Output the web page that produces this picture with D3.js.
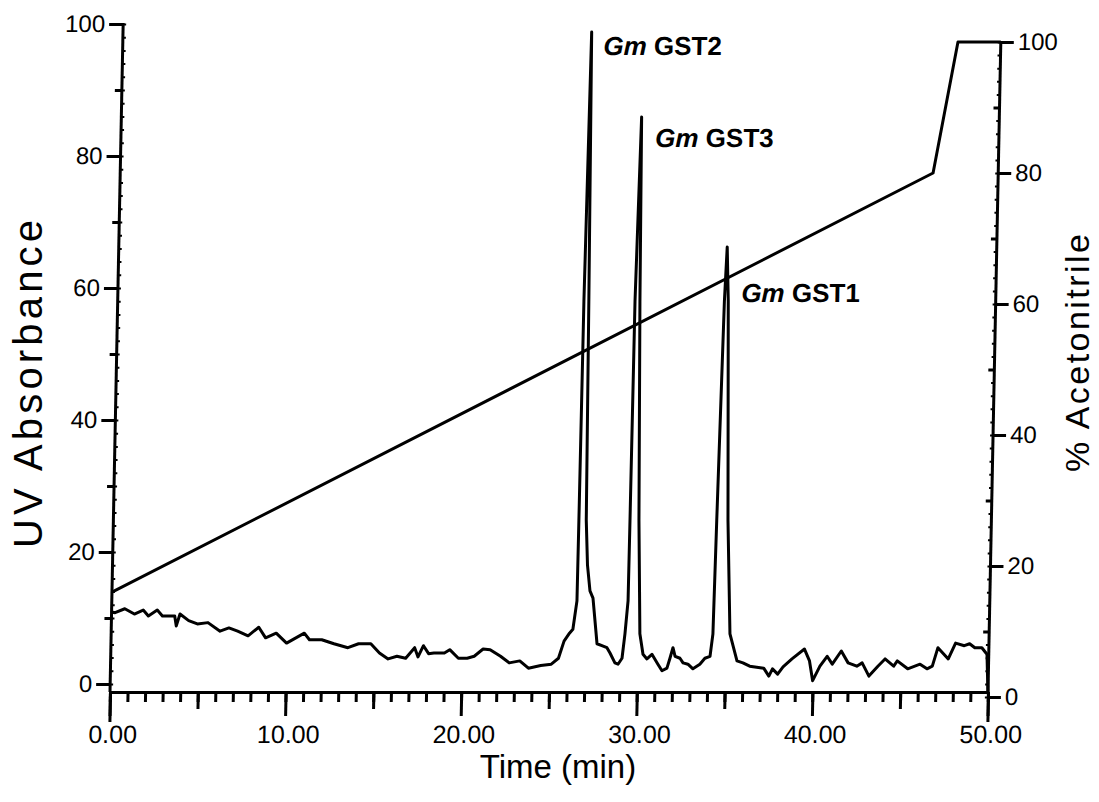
<!DOCTYPE html>
<html>
<head>
<meta charset="utf-8">
<script src="https://cdn.jsdelivr.net/npm/d3@7"></script>
<style>
body { margin: 0; background: #fff; }
svg { display: block; font-family: 'Liberation Sans', Arial, Helvetica, sans-serif; }
</style>
</head>
<body>
<svg></svg>
<script>
// UV trace (time in min, absorbance)
let uvTime = [0, 0.2, 0.75, 1.3, 1.8, 2.1, 2.6, 2.9, 3.6, 3.7, 3.9, 4.4, 4.9, 5.5, 6.2, 6.7, 7.2, 7.8, 8.4, 8.8,
    9.4, 10.0, 10.4, 11.0, 11.3, 12.0, 12.7, 13.5, 14.1, 14.8, 15.3, 15.8, 16.3, 16.8, 17.3, 17.5, 17.8, 18.1, 18.4, 19.0,
    19.3, 19.8, 20.3, 20.7, 21.2, 21.6, 22.2, 22.7, 23.3, 23.8, 24.5, 25.1, 25.5, 25.8, 26.1,
    26.29, 26.49, 26.51, 26.55, 26.69, 26.83, 26.93, 27.05, 27.22, 27.40, 27.68, 27.96, 28.25, 28.43, 28.72, 28.90, 29.12,
    29.26, 29.40, 29.42, 29.46, 29.63, 29.74, 29.93, 30.11, 30.31, 30.54, 30.82, 31.17, 31.41, 31.69, 31.85, 32.01,
    32.14, 32.42, 32.60, 32.88, 33.17, 33.56, 33.84, 34.13, 34.27, 34.36, 34.55, 34.65, 34.77, 35.0, 35.24, 35.67,
    36.01, 36.4, 37.2, 37.5, 37.7, 38.0, 38.3, 38.8, 39.5, 39.8, 40.0, 40.4, 40.8, 41.1, 41.6, 42.0, 42.5, 42.8,
    43.2, 43.7, 44.1, 44.6, 44.8, 45.4, 46.1, 46.5, 46.8, 47.1, 47.7, 48.1, 48.6, 48.9, 49.2, 49.6, 49.9, 50.0]
let uvValue = [10.9, 10.8, 11.4, 10.6, 11.2, 10.3, 11.2, 10.3, 10.3, 8.8, 10.6, 9.6, 9.1, 9.3, 8.0, 8.5, 8.0, 7.3, 8.6, 7.0,
    7.7, 6.2, 6.8, 7.7, 6.7, 6.7, 6.1, 5.5, 6.1, 6.1, 4.7, 3.8, 4.2, 3.9, 5.5, 4.1, 5.8, 4.6, 4.7, 4.7,
    5.2, 3.9, 3.9, 4.2, 5.3, 5.2, 4.2, 3.2, 3.5, 2.4, 2.8, 3.0, 3.9, 6.5, 7.7,
    8.3, 12.6, 24.8, 58, 98.8, 58, 24.8, 18, 14.1, 13.0, 6.1, 5.8, 5.5, 4.7, 3.2, 3.0, 3.9,
    7.6, 12.6, 24.8, 58, 85.9, 58, 24.8, 7.6, 4.5, 3.8, 4.5, 3.0, 2.0, 2.4, 3.9, 5.5,
    4.2, 3.9, 3.2, 3.0, 2.3, 3.0, 3.9, 4.2, 7.6, 24.8, 58, 66.2, 58, 24.8, 7.6, 3.5,
    3.2, 2.7, 2.4, 1.2, 2.3, 1.5, 2.6, 3.8, 5.3, 3.5, 0.5, 2.7, 4.2, 3.0, 5.0, 3.2, 2.7, 3.2,
    1.2, 2.7, 3.8, 2.7, 3.5, 2.3, 3.0, 2.3, 2.7, 5.5, 3.8, 6.2, 5.8, 6.1, 5.5, 5.5, 4.5, -1.5]

// acetonitrile gradient (%)
let gradTime = [0, 46.29, 47.56, 50]
let gradValue = [16, 80, 100, 100]

// peaks
let peakNames = ['GST2', 'GST3', 'GST1']
let peakTime = [26.69, 29.63, 34.65]
let peakHeight = [98.8, 85.9, 66.2]

let timeTicks = [0, 10, 20, 30, 40, 50]
let absTicks = [0, 20, 40, 60, 80, 100]
let acnTicks = [0, 20, 40, 60, 80, 100]

let width = 1099
let height = 802
let axisY = 692
let shear = 0.0197   // the scanned figure leans a little to the right

let svg = d3.select('svg').attr('width', width).attr('height', height)

let xScale = d3.scaleLinear().domain([0, 50]).range([110, 988])
let yLeft = d3.scaleLinear().domain([0, 100]).range([684, 24])
let yRight = d3.scaleLinear().domain([0, 100]).range([697, 42])

let plot = svg.append('g')
    .attr('transform', `matrix(1,0,${-shear},1,${shear * axisY},0)`)

let styleAxis = (g, fontSize) => {
    g.attr('font-family', null).attr('font-size', fontSize)
    g.selectAll('line').attr('stroke', '#000').attr('stroke-width', 3)
    g.selectAll('text').attr('fill', '#000')
}

let drawXAxis = () => {
    let bottom = plot.append('g').attr('transform', 'translate(0,' + axisY + ')')

    bottom.append('g')
        .call(d3.axisBottom(xScale).tickValues(d3.range(0, 51, 1)).tickSize(10).tickFormat(''))
        .call(g => g.select('.domain').remove())
        .call(g => styleAxis(g, 25))
    bottom.append('g')
        .call(d3.axisBottom(xScale).tickValues(d3.range(5, 50, 10)).tickSize(17).tickFormat(''))
        .call(g => g.select('.domain').remove())
        .call(g => styleAxis(g, 25))
    bottom.append('g')
        .call(d3.axisBottom(xScale).tickValues([0, 50]).tickSize(30).tickFormat(''))
        .call(g => g.select('.domain').remove())
        .call(g => styleAxis(g, 25))

    let major = bottom.append('g')
        .call(d3.axisBottom(xScale).tickValues(timeTicks).tickSize(24).tickSizeOuter(0).tickFormat(d3.format('.2f')))
        .call(g => styleAxis(g, 25))
    major.select('.domain').attr('stroke', '#000').attr('stroke-width', 3)
    major.selectAll('text').attr('y', 51).attr('dy', 0).attr('dx', 3)
}

let drawLeftAxis = () => {
    let left = plot.append('g').attr('transform', 'translate(' + xScale(0) + ',0)')

    left.append('g')
        .call(d3.axisLeft(yLeft).tickValues(d3.range(0, 101, 2)).tickSize(-3).tickFormat(''))
        .call(g => g.select('.domain').remove())
        .call(g => styleAxis(g, 24))
        .call(g => g.selectAll('line').attr('stroke-width', 2))
    left.append('g')
        .call(d3.axisLeft(yLeft).tickValues([10, 30, 50, 70, 90]).tickSize(7).tickFormat(''))
        .call(g => g.select('.domain').remove())
        .call(g => styleAxis(g, 24))
    left.append('g')
        .call(d3.axisLeft(yLeft).tickValues(absTicks).tickSize(14).tickPadding(4))
        .call(g => g.select('.domain').remove())
        .call(g => styleAxis(g, 24))

    left.append('line')
        .attr('x1', 0).attr('x2', 0)
        .attr('y1', yLeft(100) - 1).attr('y2', axisY)
        .attr('stroke', '#000').attr('stroke-width', 3)
}

let drawRightAxis = () => {
    let right = plot.append('g').attr('transform', 'translate(' + xScale(50) + ',0)')

    right.append('g')
        .call(d3.axisRight(yRight).tickValues(d3.range(0, 101, 2)).tickSize(-3).tickFormat(''))
        .call(g => g.select('.domain').remove())
        .call(g => styleAxis(g, 24))
        .call(g => g.selectAll('line').attr('stroke-width', 2))
    right.append('g')
        .call(d3.axisRight(yRight).tickValues([10, 30, 50, 70, 90]).tickSize(-6).tickFormat(''))
        .call(g => g.select('.domain').remove())
        .call(g => styleAxis(g, 24))
    right.append('g')
        .call(d3.axisRight(yRight).tickValues(acnTicks).tickSize(13).tickPadding(4))
        .call(g => g.select('.domain').remove())
        .call(g => styleAxis(g, 24))

    right.append('line')
        .attr('x1', 0).attr('x2', 0)
        .attr('y1', yRight(100) - 1).attr('y2', axisY)
        .attr('stroke', '#000').attr('stroke-width', 3)
}

let drawTraces = () => {
    let uvLine = d3.line()
        .x((d) => xScale(d[0]))
        .y((d) => yLeft(d[1]))
    let gradLine = d3.line()
        .x((d) => xScale(d[0]))
        .y((d) => yRight(d[1]))

    plot.append('path')
        .datum(d3.zip(gradTime, gradValue))
        .attr('d', gradLine)
        .attr('fill', 'none')
        .attr('stroke', '#000')
        .attr('stroke-width', 3)
        .attr('stroke-linejoin', 'round')

    plot.append('path')
        .datum(d3.zip(uvTime, uvValue))
        .attr('d', uvLine)
        .attr('fill', 'none')
        .attr('stroke', '#000')
        .attr('stroke-width', 3)
        .attr('stroke-linejoin', 'round')
}

let drawPeakLabels = () => {
    let offsets = [[12, 23], [14, 30], [15, 55]]
    peakNames.forEach((name, i) => {
        let t = plot.append('text')
            .attr('x', xScale(peakTime[i]) + offsets[i][0])
            .attr('y', yLeft(peakHeight[i]) + offsets[i][1])
            .attr('font-size', 26)
            .attr('font-weight', 'bold')
        t.append('tspan').attr('font-style', 'italic').text('Gm')
        t.append('tspan').text(' ' + name)
    })
}

let drawTitles = () => {
    svg.append('text')
        .attr('transform', 'translate(42,384) rotate(-90)')
        .attr('text-anchor', 'middle')
        .attr('font-size', 40)
        .attr('textLength', 328)
        .text('UV Absorbance')

    svg.append('text')
        .attr('transform', 'translate(1089,353) rotate(-90)')
        .attr('text-anchor', 'middle')
        .attr('font-size', 34)
        .attr('textLength', 238)
        .text('% Acetonitrile')

    svg.append('text')
        .attr('x', 558)
        .attr('y', 778)
        .attr('text-anchor', 'middle')
        .attr('font-size', 33)
        .text('Time (min)')
}

drawXAxis()
drawLeftAxis()
drawRightAxis()
drawTraces()
drawPeakLabels()
drawTitles()
</script>
</body>
</html>
